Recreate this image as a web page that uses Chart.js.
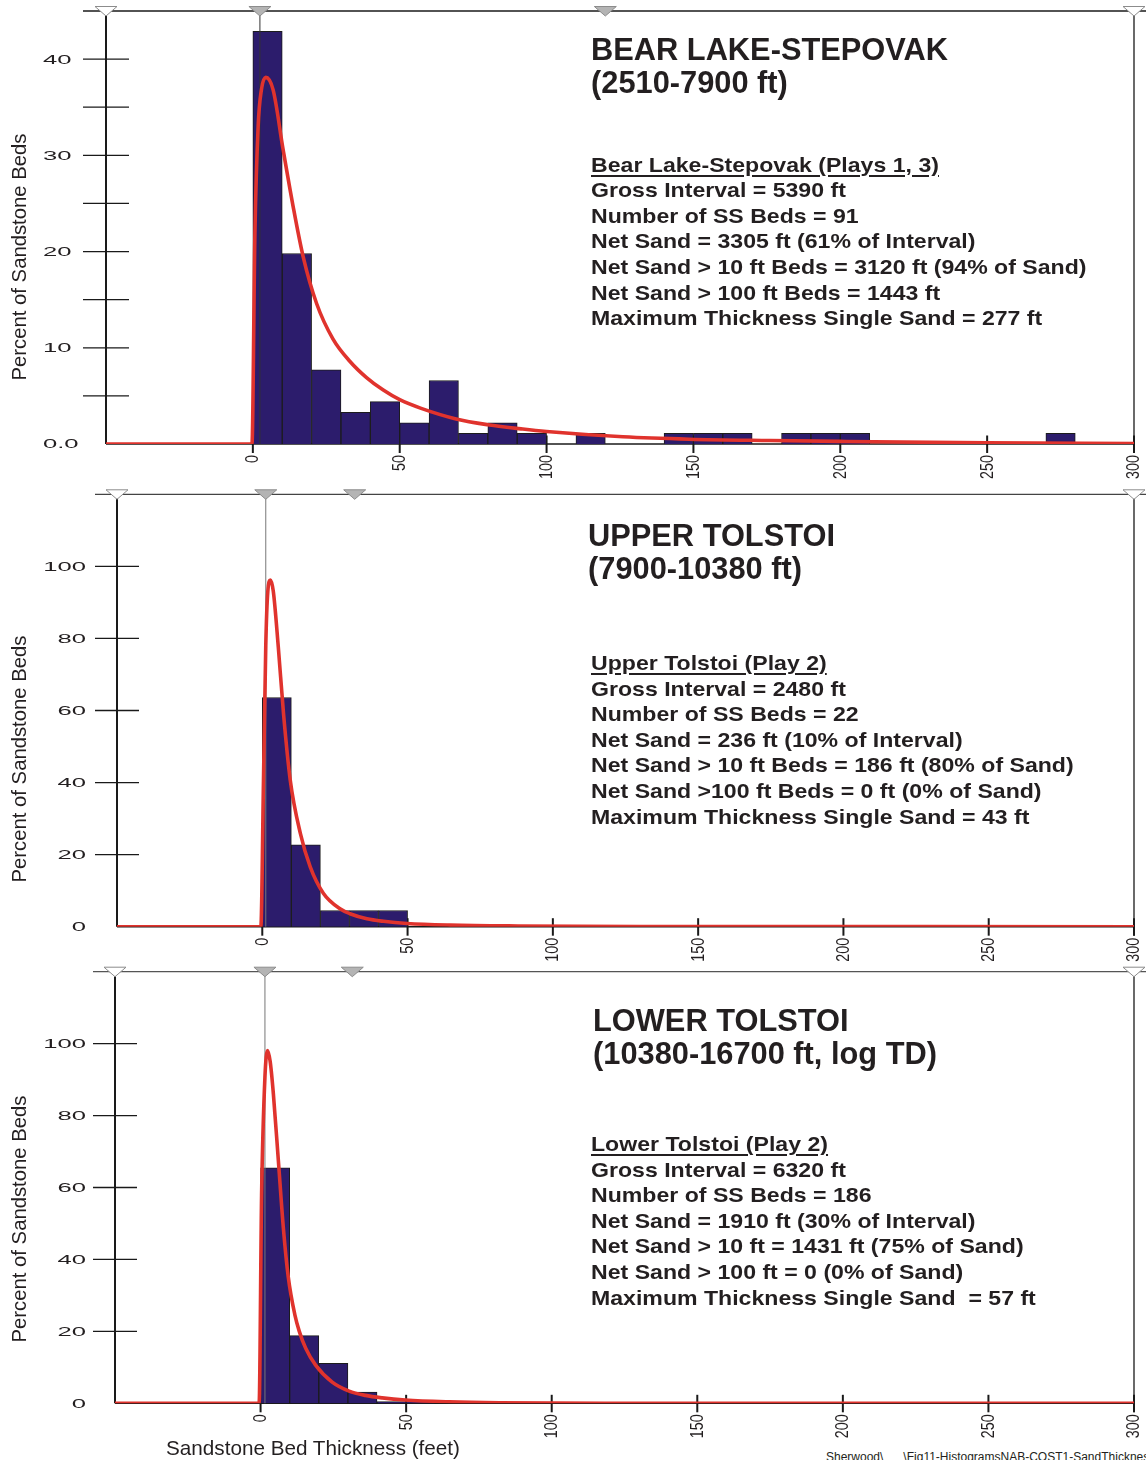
<!DOCTYPE html>
<html><head><meta charset="utf-8">
<script src="https://cdn.jsdelivr.net/npm/chart.js@4.4.1/dist/chart.umd.min.js"></script>
<style>
html,body{margin:0;padding:0;background:#fff;}
body{width:1146px;height:1460px;position:relative;overflow:hidden;font-family:"Liberation Sans",Arimo,Arial,sans-serif;color:#231f20;}
canvas{position:absolute;left:0;}
.t{position:absolute;white-space:pre;font-weight:bold;transform-origin:0 0;}
.title{font-size:30.8px;line-height:33px;}
.stats{font-size:21px;line-height:25.6px;transform:scaleX(1.10);}
.u{text-decoration:underline;text-decoration-thickness:2px;text-underline-offset:3px;}
.ylab{position:absolute;font-size:20.3px;white-space:nowrap;transform:translate(-50%,-50%) rotate(-90deg);}
.xlab{position:absolute;font-size:20.7px;white-space:nowrap;}
.foot{position:absolute;font-size:12px;line-height:12px;white-space:pre;}
</style></head>
<body>
<canvas id="c1" width="1146" height="486" style="top:0px"></canvas>
<canvas id="c2" width="1146" height="480" style="top:484px"></canvas>
<canvas id="c3" width="1146" height="478" style="top:962px"></canvas>
<script>
// ---------- DATA ----------
const xTickValues = [0, 50, 100, 150, 200, 250, 300];
const xTickLabels = ['0', '50', '100', '150', '200', '250', '300'];

// Panel 1: Bear Lake-Stepovak (10 ft bins, centres)
const bins1 = [5,15,25,35,45,55,65,75,85,95,105,115,125,135,145,155,165,175,185,195,205,215,225,235,245,255,265,275,285,295];
const pct1  = [42.9,19.8,7.7,3.3,4.4,2.2,6.6,1.1,2.2,1.1,0,1.1,0,0,1.1,1.1,1.1,0,1.1,1.1,1.1,0,0,0,0,0,0,1.1,0,0];
const curveX1 = [-50,-0.3,0.7,1.8,2.9,4.4,6.9,10.3,13.7,17.1,21.7,27.3,33,38.7,44.4,50,57.3,69.2,80,91.9,100,126,148.6,176,200,250,300];
const curveY1 = [0,0,21.9,33,36.8,38.1,36.8,30.6,24.7,19.5,14.6,10.9,8.6,6.9,5.6,4.6,3.7,2.6,2.0,1.55,1.3,0.75,0.5,0.36,0.27,0.12,0.05];
const yLabelVals1 = [0, 10, 20, 30, 40];
const yLabels1 = ['0.0', '10', '20', '30', '40'];
const markers1 = [-50, 2.4, 120, 300];

// Panel 2: Upper Tolstoi
const bins2 = [5,15,25,35,45];
const pct2  = [63.6,22.7,4.5,4.5,4.5];
const curveX2 = [-50,-0.5,0.4,1.2,1.9,2.8,3.8,5.5,7.3,9.6,13.1,16.5,21,26.9,30.2,36,41.7,49.8,64.7,88,130,300];
const curveY2 = [0,0,40,78,93,96.2,93,77.7,59.2,40.8,25.9,16.6,9.3,4.9,3.6,2.2,1.5,0.9,0.45,0.2,0.05,0];
const yLabelVals2 = [0, 20, 40, 60, 80, 100];
const yLabels2 = ['0', '20', '40', '60', '80', '100'];
const markers2 = [-50, 1.2, 31.8, 300];

// Panel 3: Lower Tolstoi
const bins3 = [5,15,25,35,45,55];
const pct3  = [65.5,18.8,11.1,3.1,0.5,0.5];
const curveX3 = [-50,-0.5,0.35,1.5,2.4,3.3,4.4,6.1,7.8,9.5,11.8,13.3,15.5,18.9,24.6,30.4,36,41.8,49.7,64.8,82,120,300];
const curveY3 = [0,0,58,90.7,98.1,95,86,67.6,49,35.2,24.5,20.0,15.3,10.6,5.9,3.4,2.2,1.5,0.9,0.4,0.15,0.03,0];
const yLabelVals3 = [0, 20, 40, 60, 80, 100];
const yLabels3 = ['0', '20', '40', '60', '80', '100'];
const markers3 = [-50, 1.5, 31.5, 300];

const markerKinds = ['open', 'filled', 'filled', 'open'];

const titles1 = ['BEAR LAKE-STEPOVAK', '(2510-7900 ft)'];
const stats1 = ['Bear Lake-Stepovak (Plays 1, 3)', 'Gross Interval = 5390 ft', 'Number of SS Beds = 91', 'Net Sand = 3305 ft (61% of Interval)', 'Net Sand > 10 ft Beds = 3120 ft (94% of Sand)', 'Net Sand > 100 ft Beds = 1443 ft', 'Maximum Thickness Single Sand = 277 ft'];
const titles2 = ['UPPER TOLSTOI', '(7900-10380 ft)'];
const stats2 = ['Upper Tolstoi (Play 2)', 'Gross Interval = 2480 ft', 'Number of SS Beds = 22', 'Net Sand = 236 ft (10% of Interval)', 'Net Sand > 10 ft Beds = 186 ft (80% of Sand)', 'Net Sand >100 ft Beds = 0 ft (0% of Sand)', 'Maximum Thickness Single Sand = 43 ft'];
const titles3 = ['LOWER TOLSTOI', '(10380-16700 ft, log TD)'];
const stats3 = ['Lower Tolstoi (Play 2)', 'Gross Interval = 6320 ft', 'Number of SS Beds = 186', 'Net Sand = 1910 ft (30% of Interval)', 'Net Sand > 10 ft = 1431 ft (75% of Sand)', 'Net Sand > 100 ft = 0 (0% of Sand)', 'Maximum Thickness Single Sand  = 57 ft'];

const yTitle = 'Percent of Sandstone Beds';
const xTitle = 'Sandstone Bed Thickness (feet)';
const footer = 'Sherwood\\      \\Fig11-HistogramsNAB-COST1-SandThickness';

// ---------- DRAWING ----------
function ln(ctx, x1, y1, x2, y2) { ctx.beginPath(); ctx.moveTo(x1, y1); ctx.lineTo(x2, y2); ctx.stroke(); }

const decor = {
  id: 'decor',
  beforeDatasetsDraw(chart, args, o) {
    const { ctx, chartArea: a, scales: { x, y } } = chart;
    ctx.save();
    ctx.lineCap = 'butt';
    ctx.strokeStyle = '#1a1a1a';
    ctx.lineWidth = 1.5; ln(ctx, a.left, a.bottom, a.right, a.bottom);
    ctx.lineWidth = 2; ln(ctx, a.left, a.top, a.left, a.bottom);
    ctx.lineWidth = 1.3; ln(ctx, a.right, a.top, a.right, a.bottom + 9);
    ctx.strokeStyle = o.topColor; ctx.lineWidth = 1.3; ln(ctx, a.left - o.tickHalf, a.top, chart.width, a.top);
    ctx.strokeStyle = '#1a1a1a'; ctx.lineWidth = 1.3;
    y.ticks.forEach(t => {
      if (t.value <= y.min || t.value >= y.max) return;
      const py = y.getPixelForValue(t.value);
      ln(ctx, a.left - o.tickHalf, py, a.left + o.tickHalf, py);
    });
    ctx.lineWidth = 2;
    x.ticks.forEach(t => {
      if (t.value < 0) return;
      const px = x.getPixelForValue(t.value);
      ln(ctx, px, a.bottom - 8.5, px, a.bottom + 9);
    });
    ctx.fillStyle = '#231f20';
    // y tick labels (extended face)
    ctx.font = '12.5px "Liberation Sans", Arimo, Arial, sans-serif';
    ctx.textBaseline = 'middle';
    ctx.textAlign = o.labelAlign;
    o.labelVals.forEach((v, i) => {
      const py = y.getPixelForValue(v);
      ctx.save();
      ctx.translate(o.labelX, py + 1);
      ctx.scale(2.05, 1);
      ctx.fillText(o.labels[i], 0, 0);
      ctx.restore();
    });
    // x tick labels (condensed face, rotated)
    ctx.font = '18px "Liberation Sans", Arimo, Arial, sans-serif';
    ctx.textAlign = 'right';
    ctx.textBaseline = 'middle';
    xTickValues.forEach((v, i) => {
      const px = x.getPixelForValue(v);
      ctx.save();
      ctx.translate(px + 0.5, a.bottom + 11);
      ctx.rotate(-Math.PI / 2);
      ctx.scale(0.8, 1);
      ctx.fillText(xTickLabels[i], 0, 0);
      ctx.restore();
    });
    ctx.restore();
  },
  beforeDatasetDraw(chart, args, o) {
    if (args.meta.type !== 'line') return;
    const { ctx, chartArea: a, scales: { x } } = chart;
    const px = x.getPixelForValue(o.markers[1]);
    ctx.save();
    ctx.strokeStyle = o.markerLine; ctx.lineWidth = 1;
    ln(ctx, px, a.top, px, a.bottom);
    ctx.restore();
  },
  afterDraw(chart, args, o) {
    const { ctx, chartArea: a, scales: { x } } = chart;
    ctx.save();
    o.markers.forEach((m, i) => {
      const px = x.getPixelForValue(m);
      ctx.beginPath();
      ctx.moveTo(px - 11, a.top - 4.5);
      ctx.lineTo(px + 11, a.top - 4.5);
      ctx.lineTo(px, a.top + 5);
      ctx.closePath();
      ctx.fillStyle = markerKinds[i] === 'open' ? '#ffffff' : '#b4b4b4';
      ctx.fill();
      ctx.strokeStyle = '#8c8c8c'; ctx.lineWidth = 1;
      ctx.stroke();
    });
    ctx.restore();
  }
};

function makeChart(id, c) {
  const H = document.getElementById(id).height;
  return new Chart(document.getElementById(id), {
    type: 'bar',
    data: {
      datasets: [
        {
          type: 'line',
          data: c.curveX.map((vx, i) => ({ x: vx, y: c.curveY[i] })),
          borderColor: '#e0332d', borderWidth: 3.6, pointRadius: 0,
          cubicInterpolationMode: 'monotone', order: 0
        },
        {
          type: 'bar',
          data: c.bins.map((vx, i) => ({ x: vx, y: c.pct[i] > 0 ? c.pct[i] : null })),
          backgroundColor: '#2c1c6c', borderColor: '#1c1c1c', borderWidth: 1,
          barPercentage: 1, categoryPercentage: 1, order: 1
        }
      ]
    },
    options: {
      responsive: false, animation: false, devicePixelRatio: 1,
      layout: { padding: { left: c.left, right: 1146 - c.right, top: c.top, bottom: H - c.bottom - 36 } },
      plugins: {
        legend: { display: false }, tooltip: { enabled: false },
        decor: {
          topColor: c.topColor, tickHalf: c.tickHalf, labelAlign: c.labelAlign, labelX: c.labelX,
          labelVals: c.labelVals, labels: c.labels, markers: c.markers, markerLine: c.markerLine
        }
      },
      scales: {
        x: {
          type: 'linear', min: -50, max: 300, offset: false,
          grid: { display: false, drawTicks: false }, border: { display: false },
          ticks: { stepSize: 50, display: false },
          afterFit: (s) => { s.height = 36; s.paddingLeft = 0; s.paddingRight = 0; }
        },
        y: {
          min: 0, max: c.ymax,
          grid: { display: false, drawTicks: false }, border: { display: false },
          ticks: { display: false, stepSize: c.ystep },
          afterFit: (s) => { s.width = 0; }
        }
      }
    },
    plugins: [decor]
  });
}

makeChart('c1', { bins: bins1, pct: pct1, curveX: curveX1, curveY: curveY1, ymax: 45, ystep: 5,
  left: 106, right: 1134, top: 11, bottom: 444, topColor: '#1a1a1a', tickHalf: 23,
  labelAlign: 'left', labelX: 43, labelVals: yLabelVals1, labels: yLabels1, markers: markers1, markerLine: '#333333' });
makeChart('c2', { bins: bins2, pct: pct2, curveX: curveX2, curveY: curveY2, ymax: 120, ystep: 20,
  left: 117, right: 1134, top: 10.3, bottom: 442.7, topColor: '#444444', tickHalf: 22,
  labelAlign: 'right', labelX: 86, labelVals: yLabelVals2, labels: yLabels2, markers: markers2, markerLine: '#777777' });
makeChart('c3', { bins: bins3, pct: pct3, curveX: curveX3, curveY: curveY3, ymax: 120, ystep: 20,
  left: 115, right: 1134, top: 9.7, bottom: 441.3, topColor: '#555555', tickHalf: 22,
  labelAlign: 'right', labelX: 86, labelVals: yLabelVals3, labels: yLabels3, markers: markers3, markerLine: '#777777' });

// ---------- TEXT ----------
function addText(cls, x, y, lines, underlineFirst) {
  const d = document.createElement('div');
  d.className = 't ' + cls;
  d.style.left = x + 'px'; d.style.top = y + 'px';
  lines.forEach((s, i) => {
    const row = document.createElement('div');
    if (underlineFirst && i === 0) {
      const sp = document.createElement('span');
      sp.className = 'u'; sp.textContent = s; row.appendChild(sp);
    } else row.textContent = s;
    d.appendChild(row);
  });
  document.body.appendChild(d);
}
addText('title', 591, 33.0, titles1, false);
addText('stats', 591, 151.6, stats1, true);
addText('title', 588, 519.0, titles2, false);
addText('stats', 591, 650, stats2, true);
addText('title', 593, 1004.0, titles3, false);
addText('stats', 591, 1131, stats3, true);

[256.5, 759, 1219].forEach(cy => {
  const d = document.createElement('div');
  d.className = 'ylab'; d.textContent = yTitle;
  d.style.left = '18.5px'; d.style.top = cy + 'px';
  document.body.appendChild(d);
});
const xt = document.createElement('div');
xt.className = 'xlab'; xt.textContent = xTitle;
xt.style.left = '166px'; xt.style.top = '1436px';
document.body.appendChild(xt);
const ft = document.createElement('div');
ft.className = 'foot'; ft.textContent = footer;
ft.style.left = '826px'; ft.style.top = '1450.5px';
document.body.appendChild(ft);
</script>
</body></html>
